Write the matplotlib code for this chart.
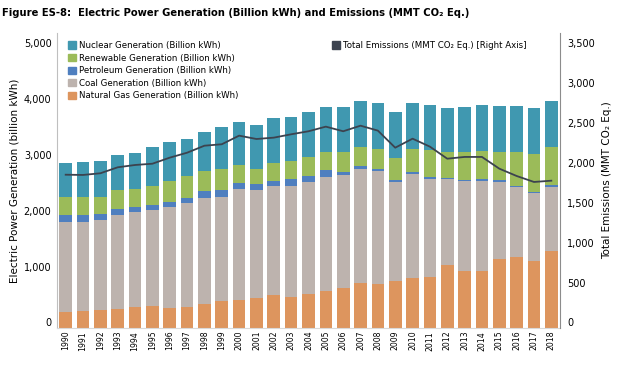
import numpy as np
import matplotlib
matplotlib.use("Agg")
import matplotlib.pyplot as plt
import matplotlib.transforms as mtransforms
from matplotlib.patches import Patch
from matplotlib.ticker import FuncFormatter

# values
years = [str(y) for y in range(1990, 2019)]
natural_gas = [287, 310, 328, 341, 382, 400, 358, 382, 435, 478,
               502, 538, 597, 556, 615, 668, 717, 812, 794, 842,
               896, 914, 1129, 1022, 1022, 1237, 1272, 1201, 1380]
coal = [1613, 1595, 1608, 1685, 1697, 1715, 1810, 1858, 1894, 1869,
        1989, 1935, 1948, 1989, 2002, 2038, 2025, 2038, 2020, 1774,
        1864, 1756, 1541, 1613, 1613, 1380, 1254, 1219, 1147]
petroleum = [120, 115, 108, 108, 90, 90, 90, 90, 125, 125,
             108, 108, 90, 125, 108, 125, 54, 54, 36, 41,
             41, 36, 23, 23, 41, 41, 18, 18, 36]
renewable = [328, 328, 305, 341, 317, 341, 382, 394, 364, 376,
             323, 269, 323, 328, 341, 328, 364, 346, 364, 394,
             407, 489, 461, 496, 496, 496, 609, 681, 681]
nuclear = [609, 627, 645, 627, 651, 699, 694, 663, 694, 753,
           765, 789, 806, 783, 806, 801, 801, 819, 819, 819,
           824, 801, 789, 806, 824, 824, 824, 824, 824]
emissions = [1923, 1920, 1941, 2016, 2045, 2061, 2137, 2199, 2287, 2305,
             2413, 2371, 2388, 2430, 2468, 2526, 2468, 2538, 2476, 2262,
             2375, 2275, 2124, 2146, 2146, 1999, 1907, 1832, 1848]

series = [
    ("Natural Gas Generation (Billion kWh)", natural_gas, "#dd955e"),
    ("Coal Generation (Billion kWh)", coal, "#bdb3ae"),
    ("Petroleum Generation (Billion kWh)", petroleum, "#4f7fbf"),
    ("Renewable Generation (Billion kWh)", renewable, "#9bbb59"),
    ("Nuclear Generation (Billion kWh)", nuclear, "#4098b0"),
]
line_color = "#3c434f"

plt.rcParams["font.family"] = ["DejaVu Sans"]

fig = plt.figure(figsize=(6.2, 3.65), dpi=100)
# plot area runs a little above the top tick, like the original
ax = fig.add_axes([57 / 620, 37 / 365, 503 / 620, 295 / 365])
headroom = 295 / 279

x = np.arange(len(years))
bottom = np.zeros(len(years))
for name, vals, col in series:
    ax.bar(x, vals, width=0.73, bottom=bottom, color=col, label=name, zorder=2)
    bottom += np.array(vals)

ax.set_xlim(-0.5, len(years) - 0.5)
ax.set_ylim(0, 5000 * headroom)
ax.set_yticks(range(0, 5001, 1000))
ax.yaxis.set_major_formatter(FuncFormatter(lambda v, p: f"{int(v):,}"))
ax.set_xticks(x)
ax.set_xticklabels(years, rotation=90, fontsize=5.6)
ax.tick_params(axis="y", labelsize=7, length=0, pad=4)
ax.tick_params(axis="x", length=0, pad=2)
ax.set_ylabel("Electric Power Generation (billion kWh)", fontsize=7.5, labelpad=3)
ax.spines["top"].set_visible(False)
ax.spines["left"].set_color("#bfbfbf")
ax.spines["bottom"].set_color("#d9d9d9")
ax.spines["right"].set_visible(False)

ax2 = ax.twinx()
ax2.plot(x, emissions, color=line_color, lw=1.3, zorder=3)
ax2.set_ylim(0, 3500 * headroom)
ax2.set_yticks(range(0, 3501, 500))
ax2.yaxis.set_major_formatter(FuncFormatter(lambda v, p: f"{int(v):,}"))
ax2.tick_params(axis="y", labelsize=7, length=0, pad=5)
ax2.set_ylabel("Total Emissions (MMT CO\u2082 Eq.)", fontsize=7.5, labelpad=5)
ax2.spines["top"].set_visible(False)
ax2.spines["left"].set_visible(False)
ax2.spines["bottom"].set_visible(False)
ax2.spines["right"].set_color("#8c8c8c")

# tick labels sit a few pixels above their gridline in the original
shift = mtransforms.ScaledTranslation(0, 4 / 72, fig.dpi_scale_trans)
for lab in ax.get_yticklabels() + ax2.get_yticklabels():
    lab.set_transform(lab.get_transform() + shift)

handles = [Patch(color=col, label=name) for name, vals, col in series[::-1]]
fig.legend(handles=handles, loc="upper left", bbox_to_anchor=(62 / 620, 1 - 35 / 365),
           frameon=False, fontsize=6.2, handlelength=0.9, handleheight=0.9,
           handletextpad=0.4, labelspacing=0.42, borderpad=0.2)
fig.legend(handles=[Patch(color=line_color, label="Total Emissions (MMT CO\u2082 Eq.) [Right Axis]")],
           loc="upper left", bbox_to_anchor=(326 / 620, 1 - 35 / 365),
           frameon=False, fontsize=6.2, handlelength=0.9, handleheight=0.9,
           handletextpad=0.4, borderpad=0.2)

fig.text(0.003, 1 - 13 / 365, "Figure ES-8:  Electric Power Generation (Billion kWh) and Emissions (MMT CO\u2082 Eq.)",
         fontsize=7.2, fontweight="bold", va="center", ha="left")

fig.savefig("out.png", dpi=100)
